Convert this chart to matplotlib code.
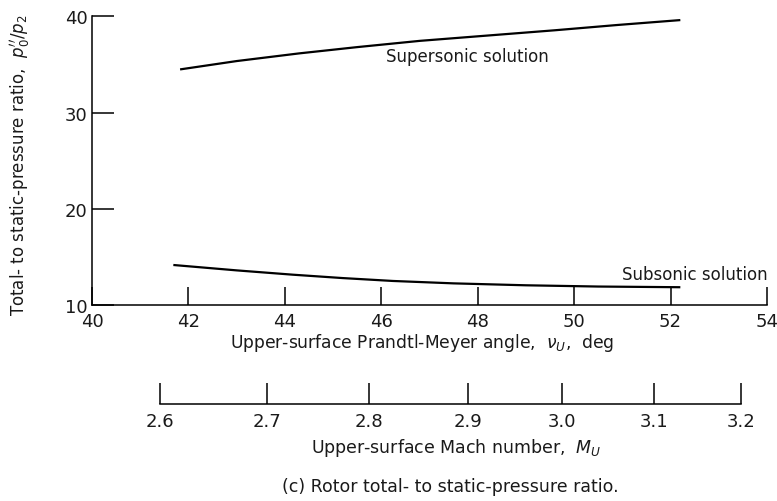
import numpy as np
import matplotlib
matplotlib.use("Agg")
import matplotlib.pyplot as plt

# Prandtl-Meyer angle (deg) and pressure ratio read along each solution branch
super_nu = [41.85, 43.0, 44.3, 45.5, 46.8, 48.2, 49.6, 50.9, 52.18]
super_ratio = [34.5, 35.35, 36.15, 36.8, 37.45, 38.0, 38.55, 39.1, 39.6]
sub_nu = [41.71, 43.0, 44.17, 45.2, 46.24, 47.5, 49.0, 50.5, 52.18]
sub_ratio = [14.15, 13.6, 13.15, 12.8, 12.5, 12.25, 12.05, 11.92, 11.85]

nu_ticks = [40, 42, 44, 46, 48, 50, 52, 54]
ratio_ticks = [10, 20, 30, 40]
mach_ticks = [2.6, 2.7, 2.8, 2.9, 3.0, 3.1, 3.2]
mach_labels = ["2.6", "2.7", "2.8", "2.9", "3.0", "3.1", "3.2"]

INK = "#1a1a1a"


def prandtl_meyer(m, g=1.4):
    # expansion angle in degrees for Mach number m
    m = np.asarray(m, dtype=float)
    a = np.sqrt((g + 1) / (g - 1))
    b = np.sqrt(m ** 2 - 1)
    return np.degrees(a * np.arctan(b / a) - np.arctan(b))


plt.rcParams["font.family"] = ["DejaVu Sans"]
plt.rcParams["mathtext.fontset"] = "dejavusans"

fig = plt.figure(figsize=(7.77, 5.02), dpi=100)

# main plot
ax = fig.add_axes([0.1184, 0.3904, 0.8687, 0.5751])
ax.plot(super_nu, super_ratio, color="black", lw=1.6)
ax.plot(sub_nu, sub_ratio, color="black", lw=1.6)
ax.set_xlim(40, 54)
ax.set_ylim(10, 40)
ax.set_xticks(nu_ticks)
ax.set_yticks(ratio_ticks)
for side in ["top", "right"]:
    ax.spines[side].set_visible(False)
for side in ["left", "bottom"]:
    ax.spines[side].set_linewidth(1.1)
ax.tick_params(axis="x", direction="in", length=13, width=1.1, pad=5,
               labelsize=13, labelcolor=INK)
ax.tick_params(axis="y", direction="in", length=16, width=1.1, pad=3,
               labelsize=13, labelcolor=INK)

ax.text(46.1, 35.9, "Supersonic solution", fontsize=12, color=INK,
        va="center", ha="left")
ax.text(51.0, 13.2, "Subsonic solution", fontsize=12, color=INK,
        va="center", ha="left", clip_on=False)

fig.text(0.026, 0.671, "Total- to static-pressure ratio,  $p_0^{\\prime\\prime}/p_2$",
         rotation=90, fontsize=12, color=INK, ha="center", va="center")
fig.text(0.543, 1 - 343 / 502, "Upper-surface Prandtl-Meyer angle,  $\\nu_U$,  deg",
         fontsize=12.3, color=INK, ha="center", va="center")

# Mach number scale under the main plot
ax2 = fig.add_axes([0.1184, 1 - 405 / 502, 0.8687, 0.05])
ax2.set_xlim(40, 54)
ax2.set_ylim(0, 1)
mach_nu = prandtl_meyer(mach_ticks)
ax2.plot([mach_nu[0], mach_nu[-1]], [0, 0], color="black", lw=1.1,
         clip_on=False)
ax2.set_xticks(mach_nu)
ax2.set_xticklabels(mach_labels)
ax2.set_yticks([])
for side in ax2.spines:
    ax2.spines[side].set_visible(False)
ax2.tick_params(axis="x", direction="in", length=15, width=1.1, pad=6,
                labelsize=13, labelcolor=INK)

fig.text(0.587, 1 - 448 / 502, "Upper-surface Mach number,  $M_U$",
         fontsize=12.5, color=INK, ha="center", va="center")
fig.text(0.579, 1 - 487 / 502, "(c) Rotor total- to static-pressure ratio.",
         fontsize=12.5, color=INK, ha="center", va="center")

fig.savefig("out.png", dpi=100)
